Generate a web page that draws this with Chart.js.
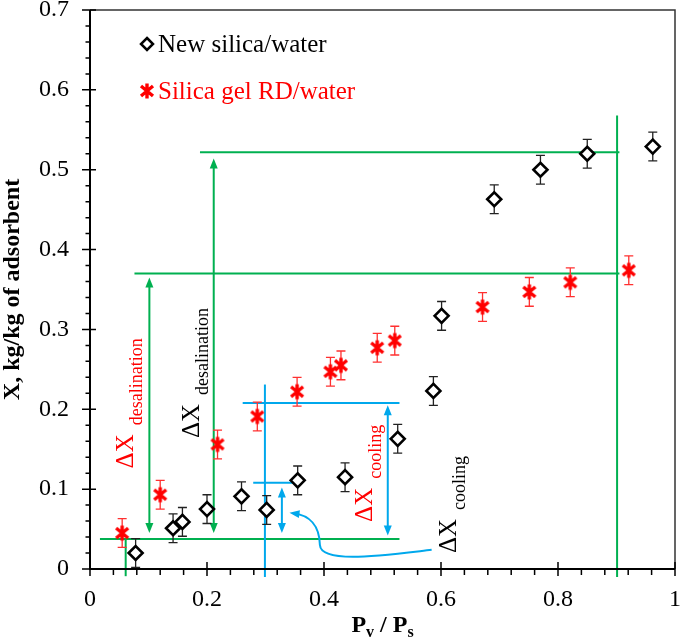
<!DOCTYPE html>
<html>
<head>
<meta charset="utf-8">
<script src="https://cdn.jsdelivr.net/npm/chart.js@4.4.0/dist/chart.umd.min.js"></script>
<style>
html, body { margin: 0; padding: 0; background: #fff; }
#wrap { width: 685px; height: 644px; }
</style>
</head>
<body>
<div id="wrap"><canvas id="chart" width="685" height="644"></canvas></div>
<script>
// DATA
const newSilicaX   = [0.078, 0.142, 0.158, 0.200, 0.259, 0.302, 0.355, 0.436, 0.526, 0.587, 0.601, 0.691, 0.770, 0.850, 0.962];
const newSilicaY   = [0.020, 0.051, 0.059, 0.075, 0.091, 0.074, 0.111, 0.115, 0.163, 0.223, 0.317, 0.463, 0.500, 0.520, 0.529];
const newSilicaErr = [0.018, 0.018, 0.018, 0.018, 0.018, 0.018, 0.018, 0.018, 0.018, 0.018, 0.018, 0.018, 0.018, 0.018, 0.018];

const rdX   = [0.055, 0.120, 0.218, 0.286, 0.354, 0.411, 0.429, 0.491, 0.521, 0.671, 0.751, 0.821, 0.921];
const rdY   = [0.045, 0.093, 0.156, 0.191, 0.222, 0.247, 0.255, 0.277, 0.286, 0.328, 0.347, 0.359, 0.374];
const rdErr = [0.018, 0.018, 0.018, 0.018, 0.018, 0.018, 0.018, 0.018, 0.018, 0.018, 0.018, 0.018, 0.018];

const xTicks = [0, 0.2, 0.4, 0.6, 0.8, 1];
const yTicks = [0, 0.1, 0.2, 0.3, 0.4, 0.5, 0.6, 0.7];

const seriesNames = ["New silica/water", "Silica gel RD/water"];

// annotation geometry, in data units
const greenLines = [
    [[0.017, 0.0375], [0.529, 0.0375]],
    [[0.061, 0.0375], [0.061, -0.009]],
    [[0.076, 0.370], [0.905, 0.370]],
    [[0.188, 0.522], [0.905, 0.522]],
    [[0.901, 0.568], [0.901, -0.010]]
];
const greenArrows = [[0.1015, 0.045, 0.365], [0.2115, 0.045, 0.514]];
const blueLines = [
    [[0.299, 0.231], [0.299, -0.010]],
    [[0.261, 0.208], [0.529, 0.208]],
    [[0.279, 0.108], [0.347, 0.108]]
];
const blueArrows = [[0.328, 0.045, 0.102], [0.509, 0.042, 0.205]];

// label anchors: [x, y, colour, subscript]
const deltaLabels = [
    [0.0728, 0.126, "#ff0000", "desalination"],
    [0.186, 0.164, "#000000", "desalination"],
    [0.482, 0.059, "#ff0000", "cooling"],
    [0.626, 0.020, "#000000", "cooling"]
];

const GREEN = "#00b050";
const BLUE = "#00a8ec";
const SERIF = "'Liberation Serif', 'Times New Roman', serif";

function makeStar(color) {
    const c = document.createElement("canvas");
    c.width = 18; c.height = 18;
    const g = c.getContext("2d");
    g.strokeStyle = color;
    g.lineWidth = 3.4;
    g.beginPath();
    g.moveTo(3, 4); g.lineTo(15, 14);
    g.moveTo(15, 4); g.lineTo(3, 14);
    g.moveTo(9, 1.5); g.lineTo(9, 16.5);
    g.stroke();
    return c;
}
const starImg = makeStar("#ff0000");

function arrowHead(ctx, x, y, ang, color) {
    const len = 10, w = 4;
    ctx.save();
    ctx.translate(x, y);
    ctx.rotate(ang);
    ctx.fillStyle = color;
    ctx.beginPath();
    ctx.moveTo(0, 0);
    ctx.lineTo(-len, -w);
    ctx.lineTo(-len, w);
    ctx.closePath();
    ctx.fill();
    ctx.restore();
}

function drawDoubleArrow(ctx, xs, ys, a, color) {
    const x = xs.getPixelForValue(a[0]);
    const y1 = ys.getPixelForValue(a[1]);
    const y2 = ys.getPixelForValue(a[2]);
    ctx.strokeStyle = color;
    ctx.lineWidth = 2;
    ctx.beginPath();
    ctx.moveTo(x, y1 - 8);
    ctx.lineTo(x, y2 + 8);
    ctx.stroke();
    arrowHead(ctx, x, y1, Math.PI / 2, color);
    arrowHead(ctx, x, y2, -Math.PI / 2, color);
}

const overlay = {
    id: "overlay",
    beforeDatasetsDraw(chart) {
        const ctx = chart.ctx;
        const xs = chart.scales.x, ys = chart.scales.y;
        const P = (p) => [xs.getPixelForValue(p[0]), ys.getPixelForValue(p[1])];
        ctx.save();
        ctx.lineWidth = 2;
        ctx.strokeStyle = GREEN;
        greenLines.forEach(l => {
            const a = P(l[0]), b = P(l[1]);
            ctx.beginPath(); ctx.moveTo(a[0], a[1]); ctx.lineTo(b[0], b[1]); ctx.stroke();
        });
        ctx.strokeStyle = BLUE;
        blueLines.forEach(l => {
            const a = P(l[0]), b = P(l[1]);
            ctx.beginPath(); ctx.moveTo(a[0], a[1]); ctx.lineTo(b[0], b[1]); ctx.stroke();
        });
        greenArrows.forEach(a => drawDoubleArrow(ctx, xs, ys, a, GREEN));
        blueArrows.forEach(a => drawDoubleArrow(ctx, xs, ys, a, BLUE));

        // curved pointer
        const c = [[0.584, 0.024], [0.50, 0.017], [0.395, 0.006], [0.393, 0.030],
                   [0.392, 0.056], [0.375, 0.067], [0.347, 0.070]].map(P);
        ctx.strokeStyle = BLUE;
        ctx.lineWidth = 2;
        ctx.beginPath();
        ctx.moveTo(c[0][0], c[0][1]);
        ctx.bezierCurveTo(c[1][0], c[1][1], c[2][0], c[2][1], c[3][0], c[3][1]);
        ctx.bezierCurveTo(c[4][0], c[4][1], c[5][0], c[5][1], c[6][0], c[6][1]);
        ctx.stroke();
        const tip = P([0.341, 0.0705]);
        arrowHead(ctx, tip[0], tip[1], Math.atan2(tip[1] - c[5][1], tip[0] - c[5][0]), BLUE);

        // error bars
        const bars = [[newSilicaX, newSilicaY, newSilicaErr, "#222"], [rdX, rdY, rdErr, "#ff3030"]];
        bars.forEach(([xv, yv, ev, col]) => {
            ctx.strokeStyle = col;
            ctx.lineWidth = 1.3;
            xv.forEach((xx, i) => {
                const px = xs.getPixelForValue(xx);
                const top = ys.getPixelForValue(yv[i] + ev[i]);
                const bot = ys.getPixelForValue(yv[i] - ev[i]);
                ctx.beginPath();
                ctx.moveTo(px, top); ctx.lineTo(px, bot);
                ctx.moveTo(px - 4.5, top); ctx.lineTo(px + 4.5, top);
                ctx.moveTo(px - 4.5, bot); ctx.lineTo(px + 4.5, bot);
                ctx.stroke();
            });
        });
        ctx.restore();
    },
    afterDraw(chart) {
        const ctx = chart.ctx;
        const a = chart.chartArea;
        const xs = chart.scales.x, ys = chart.scales.y;
        ctx.save();

        // frame
        ctx.strokeStyle = "#333";
        ctx.lineWidth = 1.5;
        ctx.beginPath();
        ctx.moveTo(a.left, a.top); ctx.lineTo(a.right, a.top); ctx.lineTo(a.right, a.bottom);
        ctx.stroke();
        ctx.strokeStyle = "#000";
        ctx.lineWidth = 2;
        ctx.beginPath();
        ctx.moveTo(a.left, a.top); ctx.lineTo(a.left, a.bottom); ctx.lineTo(a.right, a.bottom);
        ctx.stroke();

        // ticks
        ctx.lineWidth = 1.5;
        ctx.beginPath();
        for (let i = 0; i <= 35; i++) {
            const py = ys.getPixelForValue(i * 0.02);
            if (i % 5 === 0) { ctx.moveTo(a.left - 8, py); ctx.lineTo(a.left + 6, py); }
            else { ctx.moveTo(a.left - 4.5, py); ctx.lineTo(a.left, py); }
        }
        for (let i = 0; i <= 25; i++) {
            const px = xs.getPixelForValue(i * 0.04);
            if (i % 5 === 0) { ctx.moveTo(px, a.bottom - 7); ctx.lineTo(px, a.bottom + 7); }
            else { ctx.moveTo(px, a.bottom); ctx.lineTo(px, a.bottom + 6); }
        }
        ctx.stroke();

        // delta labels
        deltaLabels.forEach(([lx, ly, col, sub]) => {
            const px = xs.getPixelForValue(lx), py = ys.getPixelForValue(ly);
            ctx.save();
            ctx.translate(px, py);
            ctx.rotate(-Math.PI / 2);
            ctx.fillStyle = col;
            ctx.textAlign = "left";
            ctx.textBaseline = "alphabetic";
            ctx.font = "25px " + SERIF;
            ctx.fillText("\u0394X", 0, 0);
            const w = ctx.measureText("\u0394X").width;
            ctx.font = "18px " + SERIF;
            ctx.fillText(sub, w + 9, 9);
            ctx.restore();
        });

        // legend
        ctx.textAlign = "left";
        ctx.textBaseline = "alphabetic";
        ctx.font = "25px " + SERIF;
        const lx = a.left + 57;
        ctx.strokeStyle = "#000";
        ctx.lineWidth = 2.5;
        ctx.beginPath();
        ctx.moveTo(lx, a.top + 28); ctx.lineTo(lx + 6, a.top + 34); ctx.lineTo(lx, a.top + 40); ctx.lineTo(lx - 6, a.top + 34); ctx.closePath();
        ctx.stroke();
        ctx.fillStyle = "#000";
        ctx.fillText(seriesNames[0], lx + 11, a.top + 42);
        ctx.drawImage(starImg, lx - 9, a.top + 72);
        ctx.fillStyle = "#ff0000";
        ctx.fillText(seriesNames[1], lx + 11, a.top + 89);

        // y title
        ctx.save();
        ctx.translate(19, (a.top + a.bottom) / 2);
        ctx.rotate(-Math.PI / 2);
        ctx.fillStyle = "#000";
        ctx.font = "bold 24px " + SERIF;
        ctx.textAlign = "center";
        ctx.fillText("X, kg/kg of adsorbent", 0, 0);
        ctx.restore();

        // x title with subscripts
        const parts = [["P", 24, 0], ["v", 16, 5], [" / ", 24, 0], ["P", 24, 0], ["s", 16, 5]];
        let total = 0;
        parts.forEach(p => { ctx.font = "bold " + p[1] + "px " + SERIF; total += ctx.measureText(p[0]).width; });
        let tx = (a.left + a.right) / 2 - total / 2;
        const base = 632;
        ctx.fillStyle = "#000";
        ctx.textAlign = "left";
        parts.forEach(p => {
            ctx.font = "bold " + p[1] + "px " + SERIF;
            ctx.fillText(p[0], tx, base + p[2]);
            tx += ctx.measureText(p[0]).width;
        });
        ctx.restore();
    }
};

const fmt = v => String(parseFloat(Number(v).toFixed(2)));

new Chart(document.getElementById("chart"), {
    type: "scatter",
    data: {
        datasets: [
            {
                label: seriesNames[0],
                data: newSilicaX.map((x, i) => ({ x: x, y: newSilicaY[i] })),
                pointStyle: "rectRot",
                pointRadius: 7,
                pointBorderWidth: 2.6,
                borderColor: "#000",
                backgroundColor: "#fff"
            },
            {
                label: seriesNames[1],
                data: rdX.map((x, i) => ({ x: x, y: rdY[i] })),
                pointStyle: starImg,
                pointRadius: 9,
                borderColor: "#ff0000",
                backgroundColor: "#ff0000"
            }
        ]
    },
    options: {
        responsive: false,
        animation: false,
        events: [],
        layout: { padding: { top: 9, right: 4, left: 0, bottom: 0 } },
        plugins: { legend: { display: false }, tooltip: { enabled: false } },
        scales: {
            x: {
                type: "linear",
                min: 0, max: 1,
                grid: { display: false, drawTicks: false },
                border: { display: false },
                ticks: { color: "#000", font: { family: SERIF, size: 24 }, padding: 16, maxRotation: 0, callback: fmt },
                afterBuildTicks: s => { s.ticks = xTicks.map(v => ({ value: v })); },
                afterFit: s => { s.height = 75; s.paddingLeft = 0; s.paddingRight = 0; }
            },
            y: {
                type: "linear",
                min: 0, max: 0.7,
                grid: { display: false, drawTicks: false },
                border: { display: false },
                ticks: { color: "#000", font: { family: SERIF, size: 24 }, padding: 21, callback: fmt },
                afterBuildTicks: s => { s.ticks = yTicks.map(v => ({ value: v })); },
                afterFit: s => { s.width = 90; s.paddingTop = 0; s.paddingBottom = 0; }
            }
        }
    },
    plugins: [overlay]
});
</script>
</body>
</html>
